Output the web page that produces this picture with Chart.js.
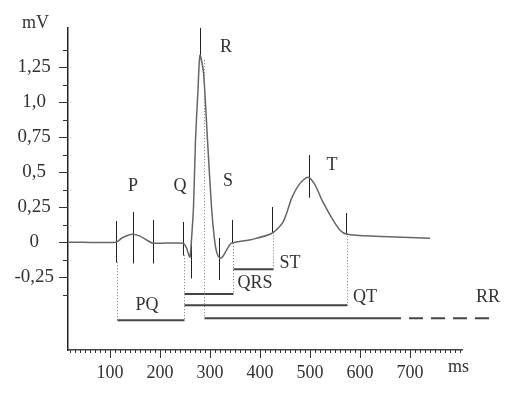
<!DOCTYPE html>
<html>
<head>
<meta charset="utf-8">
<script src="https://cdn.jsdelivr.net/npm/chart.js@4/dist/chart.umd.min.js"></script>
<style>
  body { margin: 0; background: #fff; }
  #box { width: 520px; height: 393px; }
</style>
</head>
<body>
<div id="box"><canvas id="ecg"></canvas></div>
<script>
// ECG trace (ms, mV)
var ecgTime = [16,112,124,136,146,160,174,186,246,253,257,260,263,267,271,276,280,287,295,303,309,314,320,326,333,343,384,424,446,464,480,496,510,524,544,560,574,630,740];
var ecgVoltage = [0,0,0.03,0.05,0.057,0.043,0.014,-0.007,-0.007,-0.04,-0.085,-0.107,0.02,0.25,0.73,1.09,1.336,1.21,0.73,0.25,0.02,-0.08,-0.114,-0.1,-0.057,-0.007,0.02,0.064,0.143,0.32,0.42,0.464,0.41,0.3,0.17,0.086,0.057,0.043,0.029];

// short solid markers on the trace
var markerTime = [113,147,187,247,263,281,319,345,425,499,573];
var markerTop = [0.15,0.214,0.157,0.143,0.05,1.53,0.03,0.157,0.25,0.62,0.207];
var markerBottom = [-0.143,-0.15,-0.15,-0.093,-0.257,1.336,-0.27,-0.007,0.07,0.32,0.064];

// dotted guides down to the interval bars
var guideTime = [115,249,289,347,427,575];
var guideTop = [-0.143,-0.093,1.3,-0.007,0.07,0.064];
var guideBottom = [-0.557,-0.557,-0.543,-0.37,-0.193,-0.45];

// intervals
var intervalNames = ['PQ','QRS','ST','QT','RR'];
var intervalStart = [115,249,347,249,289];
var intervalEnd = [249,347,427,575,654];
var intervalLevel = [-0.557,-0.37,-0.193,-0.45,-0.543];
var intervalLabelX = [174,390,460,610,856];
var intervalLabelY = [-0.45,-0.29,-0.15,-0.39,-0.39];
var rrDashedEnd = 860;

// wave names
var waveNames = ['P','Q','R','S','T'];
var waveLabelX = [146,240,332,336,544];
var waveLabelY = [0.4,0.4,1.39,0.436,0.55];

// axis ticks
var xTickValues = [100,200,300,400,500,600,700];
var yTickValues = [-0.25,0,0.25,0.5,0.75,1.0,1.25];
var yTickLabels = ['-0,25','0','0,25','0,5','0,75','1,0','1,25'];

var serif = '"Liberation Serif", "DejaVu Serif", serif';
var inkColor = '#333';

function segments(xs, tops, bottoms) {
  var pts = [];
  for (var i = 0; i < xs.length; i++) {
    pts.push({x: xs[i], y: tops[i]});
    pts.push({x: xs[i], y: bottoms[i]});
    pts.push({x: xs[i], y: null});
  }
  return pts;
}

function bars(starts, ends, levels) {
  var pts = [];
  for (var i = 0; i < starts.length; i++) {
    pts.push({x: starts[i], y: levels[i]});
    pts.push({x: ends[i], y: levels[i]});
    pts.push({x: ends[i], y: null});
  }
  return pts;
}

var ecgPoints = [];
for (var i = 0; i < ecgTime.length; i++) {
  ecgPoints.push({x: ecgTime[i], y: ecgVoltage[i]});
}

var rrIndex = intervalNames.indexOf('RR');
var rrDashed = [
  {x: intervalEnd[rrIndex], y: intervalLevel[rrIndex]},
  {x: rrDashedEnd, y: intervalLevel[rrIndex]}
];

var ecgDecor = {
  id: 'ecgDecor',
  afterDatasetsDraw: function(chart) {
    var ctx = chart.ctx;
    var xs = chart.scales.x;
    var ys = chart.scales.y;
    var area = chart.chartArea;
    ctx.save();
    // tick marks
    ctx.strokeStyle = inkColor;
    ctx.lineWidth = 1;
    ctx.beginPath();
    for (var t = 20; t <= 800; t += 10) {
      var px = Math.round(xs.getPixelForValue(t)) + 0.5;
      var len = (t % 100 === 0 && t < 800) ? 8 : 3;
      ctx.moveTo(px, area.bottom);
      ctx.lineTo(px, area.bottom + len);
    }
    for (var k = -3; k <= 11; k++) {
      var py = Math.round(ys.getPixelForValue(k * 0.125)) + 0.5;
      var l = (k % 2 === 0) ? 9 : 5;
      ctx.moveTo(area.left - l, py);
      ctx.lineTo(area.left, py);
    }
    ctx.stroke();

    // labels
    ctx.fillStyle = inkColor;
    ctx.font = '18px ' + serif;
    ctx.textAlign = 'center';
    ctx.textBaseline = 'middle';
    for (var w = 0; w < waveNames.length; w++) {
      ctx.fillText(waveNames[w], xs.getPixelForValue(waveLabelX[w]), ys.getPixelForValue(waveLabelY[w]));
    }
    for (var n = 0; n < intervalNames.length; n++) {
      ctx.fillText(intervalNames[n], xs.getPixelForValue(intervalLabelX[n]), ys.getPixelForValue(intervalLabelY[n]));
    }
    ctx.textAlign = 'left';
    ctx.textBaseline = 'alphabetic';
    ctx.fillText('mV', area.left - 46, area.top);
    ctx.fillText('ms', area.right - 14, area.bottom + 22);
    ctx.restore();
  }
};

new Chart(document.getElementById('ecg'), {
  type: 'line',
  data: {
    datasets: [
      {
        data: ecgPoints,
        borderColor: '#666',
        borderWidth: 1.5,
        pointRadius: 0,
        tension: 0.25
      },
      {
        data: segments(markerTime, markerTop, markerBottom),
        borderColor: '#222',
        borderWidth: 1,
        pointRadius: 0,
        spanGaps: false
      },
      {
        data: segments(guideTime, guideTop, guideBottom),
        borderColor: '#777',
        borderWidth: 1,
        borderDash: [1, 2],
        pointRadius: 0,
        spanGaps: false
      },
      {
        data: bars(intervalStart, intervalEnd, intervalLevel),
        borderColor: '#444',
        borderWidth: 2,
        pointRadius: 0,
        spanGaps: false
      },
      {
        data: rrDashed,
        borderColor: '#444',
        borderWidth: 2,
        borderDash: [14, 8],
        pointRadius: 0,
        clip: false
      }
    ]
  },
  options: {
    responsive: true,
    maintainAspectRatio: false,
    animation: false,
    layout: { padding: { top: 28, right: 58, left: 0, bottom: 0 } },
    plugins: { legend: { display: false }, tooltip: { enabled: false } },
    scales: {
      x: {
        type: 'linear',
        min: 16,
        max: 804,
        afterFit: function(s) { s.height = 43; },
        afterBuildTicks: function(s) {
          s.ticks = xTickValues.map(function(v) { return {value: v}; });
        },
        grid: { drawOnChartArea: false, drawTicks: false },
        border: { color: '#444', width: 1.5 },
        ticks: {
          padding: 12,
          color: inkColor,
          font: { family: serif, size: 18 },
          maxRotation: 0,
          autoSkip: false,
          callback: function(v) { return String(v); }
        }
      },
      y: {
        min: -0.77,
        max: 1.53,
        afterFit: function(s) { s.width = 68; },
        afterBuildTicks: function(s) {
          s.ticks = yTickValues.map(function(v) { return {value: v}; });
        },
        grid: { drawOnChartArea: false, drawTicks: false },
        border: { color: '#222', width: 1.5 },
        ticks: {
          padding: 14,
          crossAlign: 'center',
          color: inkColor,
          font: { family: serif, size: 19 },
          autoSkip: false,
          callback: function(v, i) { return yTickLabels[i]; }
        }
      }
    }
  },
  plugins: [ecgDecor]
});
</script>
</body>
</html>
